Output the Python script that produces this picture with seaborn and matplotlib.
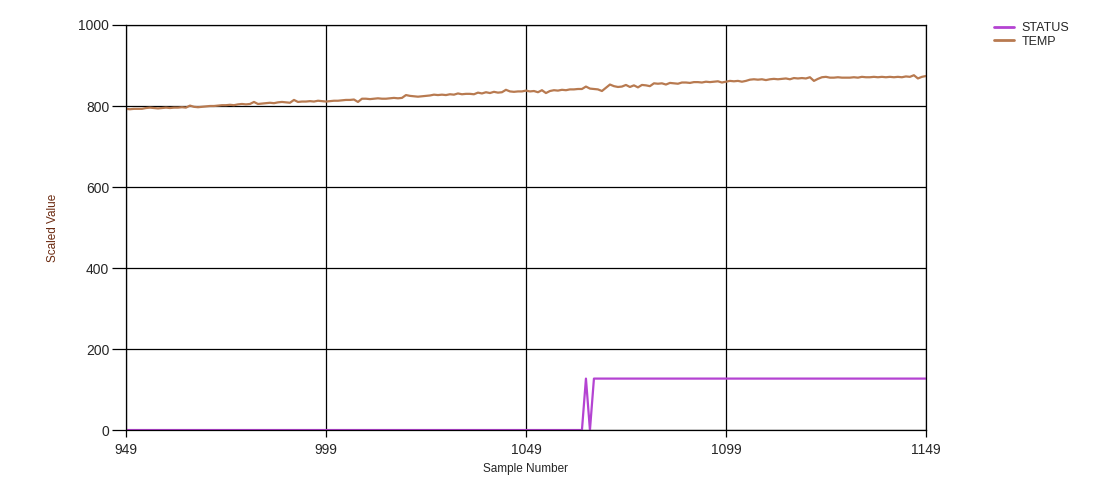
import matplotlib
matplotlib.use('Agg')
import matplotlib.pyplot as plt
import seaborn as sns
import pandas as pd

# sample numbers 949..1149
samples = list(range(949, 1150))

temp = [
    793, 792, 793, 793, 793, 795, 796, 795, 794, 795,
    796, 795, 796, 796, 797, 796, 801, 798, 797, 798,
    799, 800, 800, 801, 802, 802, 803, 802, 804, 805,
    804, 805, 810, 805, 806, 807, 808, 807, 809, 810,
    809, 808, 815, 810, 811, 811, 812, 811, 813, 812,
    811, 812, 813, 813, 814, 815, 815, 816, 810, 818,
    818, 817, 818, 819, 818, 818, 819, 820, 819, 820,
    827, 825, 824, 823, 824, 825, 826, 828, 827, 828,
    827, 829, 828, 831, 829, 830, 830, 829, 833, 831,
    834, 832, 835, 833, 834, 840, 836, 835, 836, 836,
    838, 836, 837, 834, 839, 832, 837, 839, 838, 840,
    839, 841, 841, 842, 842, 848, 843, 842, 841, 837,
    845, 853, 849, 847, 848, 852, 847, 851, 846, 852,
    851, 849, 856, 855, 856, 853, 857, 856, 855, 858,
    858, 857, 859, 859, 858, 860, 859, 860, 861, 858,
    860, 862, 861, 862, 860, 862, 865, 866, 865, 866,
    864, 866, 867, 866, 867, 868, 866, 869, 868, 869,
    868, 871, 862, 867, 871, 872, 870, 870, 871, 870,
    870, 870, 871, 870, 872, 871, 871, 872, 871, 872,
    871, 872, 871, 872, 871, 873, 872, 876, 868, 872,
    874,
]

status = [0] * 115 + [127, 0] + [127] * 84

x_ticks = [949, 999, 1049, 1099, 1149]
y_ticks = [0, 200, 400, 600, 800, 1000]

df = pd.DataFrame({
    'Sample Number': samples * 2,
    'Scaled Value': status + temp,
    'series': ['STATUS'] * len(samples) + ['TEMP'] * len(samples),
})

sns.set_style('white')
plt.rcParams['font.family'] = ['Liberation Sans', 'DejaVu Sans']

fig = plt.figure(figsize=(11.11, 4.96), dpi=100)
ax = fig.add_axes([0.1134, 0.133, 0.72, 0.8166])

sns.lineplot(data=df, x='Sample Number', y='Scaled Value', hue='series',
             palette={'STATUS': '#b443d2', 'TEMP': '#b87a50'},
             linewidth=1.6, ax=ax)

ax.set_xlim(949, 1149)
ax.set_ylim(0, 1000)
ax.set_xticks(x_ticks)
ax.set_yticks(y_ticks)
ax.grid(True, color='black', linewidth=0.9)
for s in ax.spines.values():
    s.set_visible(True)
    s.set_color('black')
    s.set_linewidth(0.9)
ax.tick_params(axis='y', which='major', left=True, length=10, width=0.9,
               color='black', labelsize=10, pad=2)
ax.tick_params(axis='x', which='major', bottom=True, length=5, width=0.9,
               color='black', labelsize=10, pad=4)

ax.set_xlabel('Sample Number', fontsize=8.5, labelpad=5)
ax.set_ylabel('Scaled Value', fontsize=8.5, color='#6b2a10', labelpad=14)

leg = ax.legend(loc='upper left', bbox_to_anchor=(1.071, 1.035), frameon=False,
                fontsize=9, handlelength=1.6, labelspacing=0.12, handletextpad=0.6)
for line in leg.get_lines():
    line.set_linewidth(2)

fig.savefig('out.png', dpi=100)
